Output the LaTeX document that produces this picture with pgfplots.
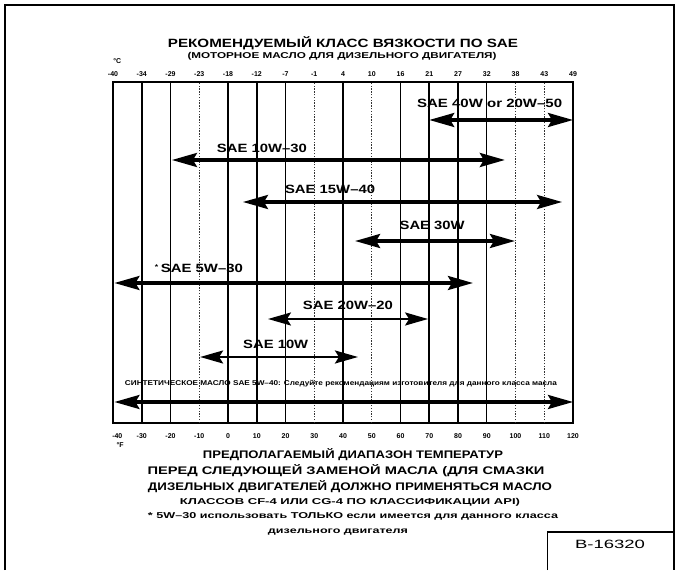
\documentclass[border=0pt]{standalone}
\usepackage{pgfplots}
\pgfplotsset{compat=1.18}
\usepackage{graphicx}
\usepackage{fontspec}
\setmainfont{Liberation Sans}
\usetikzlibrary{arrows.meta}
\newcommand\fitw[2]{\resizebox{#1}{\height}{#2}}
\tikzset{
  lab/.style={font=\bfseries\fontsize{12}{14}\selectfont, inner sep=0pt},
  tl/.style={font=\bfseries\fontsize{7}{8}\selectfont, inner sep=0pt},
  thk/.style={black, line width=1.6pt},
  med/.style={black, line width=1.1pt},
  dts/.style={black!80, line width=0.9pt, dash pattern=on 1.3pt off 1.5pt},
  arr/.style={black, line width=3.2pt, {Stealth[length=25pt,width=14pt,inset=4pt]}-{Stealth[length=25pt,width=14pt,inset=4pt]}},
  arrt/.style={black, line width=2.2pt, {Stealth[length=23pt,width=13pt,inset=4pt]}-{Stealth[length=23pt,width=13pt,inset=4pt]}}}
\begin{document}
\begin{tikzpicture}
\path[use as bounding box] (0pt,0pt) rectangle (679pt,570pt);
\draw[line width=1.3pt] (5pt,0pt) -- (5pt,565pt) -- (674pt,565pt) -- (674pt,0pt);
\draw[line width=1.3pt] (547.5pt,0pt) -- (547.5pt,38pt) -- (674pt,38pt);
\node[font=\fontsize{12}{14}\selectfont, inner sep=0pt] at (610pt,26pt) {\fitw{70pt}{B-16320}};
\begin{axis}[at={(113pt,147pt)}, anchor=south west, scale only axis,
  width=460pt, height=341pt, xmin=0, xmax=16, ymin=147, ymax=488,
  axis line style={line width=1.5pt}, ticks=none, clip=false]
% vertical grid lines
\addplot[thk] coordinates {(1,147) (1,488)};
\addplot[med] coordinates {(2,147) (2,488)};
\addplot[dts] coordinates {(3,147) (3,488)};
\addplot[med] coordinates {(4,147) (4,488)};
\addplot[thk] coordinates {(5,147) (5,488)};
\addplot[med] coordinates {(6,147) (6,488)};
\addplot[dts] coordinates {(7,147) (7,488)};
\addplot[thk] coordinates {(8,147) (8,488)};
\addplot[dts] coordinates {(9,147) (9,488)};
\addplot[med] coordinates {(10,147) (10,488)};
\addplot[thk] coordinates {(11,147) (11,488)};
\addplot[thk] coordinates {(12,147) (12,488)};
\addplot[med] coordinates {(13,147) (13,488)};
\addplot[dts] coordinates {(14,147) (14,488)};
\addplot[dts] coordinates {(15,147) (15,488)};
% viscosity ranges
\addplot[arr] coordinates {(11,450) (16,450)};
\addplot[arr] coordinates {(2.05,410) (13.63,410)};
\addplot[arr] coordinates {(4.52,368) (15.62,368)};
\addplot[arr] coordinates {(8.42,329) (13.98,329)};
\addplot[arr] coordinates {(0.05,287) (12.52,287)};
\addplot[arrt] coordinates {(5.39,251) (10.96,251)};
\addplot[arrt] coordinates {(3.03,213) (8.52,213)};
\addplot[arr] coordinates {(0.05,168) (16,168)};
% range labels
\node[lab] at (axis cs:13.1,467) {\fitw{145pt}{SAE 40W or 20W–50}};
\node[lab] at (axis cs:5.18,422) {\fitw{90pt}{SAE 10W–30}};
\node[lab] at (axis cs:7.55,381) {\fitw{90pt}{SAE 15W–40}};
\node[lab] at (axis cs:11.1,345) {\fitw{65pt}{SAE 30W}};
\node[lab] at (axis cs:2.99,302) {\fitw{88pt}{\raisebox{3pt}{\fontsize{7}{8}\selectfont *}\,SAE 5W–30}};
\node[lab] at (axis cs:8.17,265) {\fitw{90pt}{SAE 20W–20}};
\node[lab] at (axis cs:5.66,226) {\fitw{65pt}{SAE 10W}};
\node[font=\bfseries\fontsize{7}{8}\selectfont, inner sep=0pt] at (axis cs:7.93,186) {\fitw{432pt}{СИНТЕТИЧЕСКОЕ МАСЛО SAE 5W–40: Следуйте рекомендациям изготовителя для данного класса масла}};
% top scale (deg C)
\node[tl] at (axis cs:0,496) {-40};
\node[tl] at (axis cs:1,496) {-34};
\node[tl] at (axis cs:2,496) {-29};
\node[tl] at (axis cs:3,496) {-23};
\node[tl] at (axis cs:4,496) {-18};
\node[tl] at (axis cs:5,496) {-12};
\node[tl] at (axis cs:6,496) {-7};
\node[tl] at (axis cs:7,496) {-1};
\node[tl] at (axis cs:8,496) {4};
\node[tl] at (axis cs:9,496) {10};
\node[tl] at (axis cs:10,496) {16};
\node[tl] at (axis cs:11,496) {21};
\node[tl] at (axis cs:12,496) {27};
\node[tl] at (axis cs:13,496) {32};
\node[tl] at (axis cs:14,496) {38};
\node[tl] at (axis cs:15,496) {43};
\node[tl] at (axis cs:16,496) {49};
\node[tl] at (axis cs:0.15,509) {°C};
% bottom scale (deg F)
\node[tl] at (axis cs:0.15,134) {-40};
\node[tl] at (axis cs:1,134) {-30};
\node[tl] at (axis cs:2,134) {-20};
\node[tl] at (axis cs:3,134) {-10};
\node[tl] at (axis cs:4,134) {0};
\node[tl] at (axis cs:5,134) {10};
\node[tl] at (axis cs:6,134) {20};
\node[tl] at (axis cs:7,134) {30};
\node[tl] at (axis cs:8,134) {40};
\node[tl] at (axis cs:9,134) {50};
\node[tl] at (axis cs:10,134) {60};
\node[tl] at (axis cs:11,134) {70};
\node[tl] at (axis cs:12,134) {80};
\node[tl] at (axis cs:13,134) {90};
\node[tl] at (axis cs:14,134) {100};
\node[tl] at (axis cs:15,134) {110};
\node[tl] at (axis cs:16,134) {120};
\node[tl] at (axis cs:0.25,125) {°F};
\end{axis}
% titles
\node[font=\bfseries\fontsize{12}{14}\selectfont, inner sep=0pt] at (343pt,527pt) {\fitw{350pt}{РЕКОМЕНДУЕМЫЙ КЛАСС ВЯЗКОСТИ ПО SAE}};
\node[font=\bfseries\fontsize{8.5}{10}\selectfont, inner sep=0pt] at (342pt,514pt) {\fitw{309pt}{(МОТОРНОЕ МАСЛО ДЛЯ ДИЗЕЛЬНОГО ДВИГАТЕЛЯ)}};
% bottom notes
\node[font=\bfseries\fontsize{11}{13}\selectfont, inner sep=0pt] at (353pt,115pt) {\fitw{300pt}{ПРЕДПОЛАГАЕМЫЙ ДИАПАЗОН ТЕМПЕРАТУР}};
\node[font=\bfseries\fontsize{11}{13}\selectfont, inner sep=0pt] at (346pt,99pt) {\fitw{397pt}{ПЕРЕД СЛЕДУЮЩЕЙ ЗАМЕНОЙ МАСЛА (ДЛЯ СМАЗКИ}};
\node[font=\bfseries\fontsize{11}{13}\selectfont, inner sep=0pt] at (350pt,83pt) {\fitw{404pt}{ДИЗЕЛЬНЫХ ДВИГАТЕЛЕЙ ДОЛЖНО ПРИМЕНЯТЬСЯ МАСЛО}};
\node[font=\bfseries\fontsize{8.5}{10}\selectfont, inner sep=0pt] at (350pt,68pt) {\fitw{340pt}{КЛАССОВ CF-4 ИЛИ CG-4 ПО КЛАССИФИКАЦИИ API)}};
\node[font=\bfseries\fontsize{8.5}{10}\selectfont, inner sep=0pt] at (353pt,54pt) {\fitw{410pt}{* 5W–30 использовать ТОЛЬКО если имеется для данного класса}};
\node[font=\bfseries\fontsize{8.5}{10}\selectfont, inner sep=0pt] at (338pt,38pt) {\fitw{140pt}{дизельного двигателя}};
\end{tikzpicture}
\end{document}
